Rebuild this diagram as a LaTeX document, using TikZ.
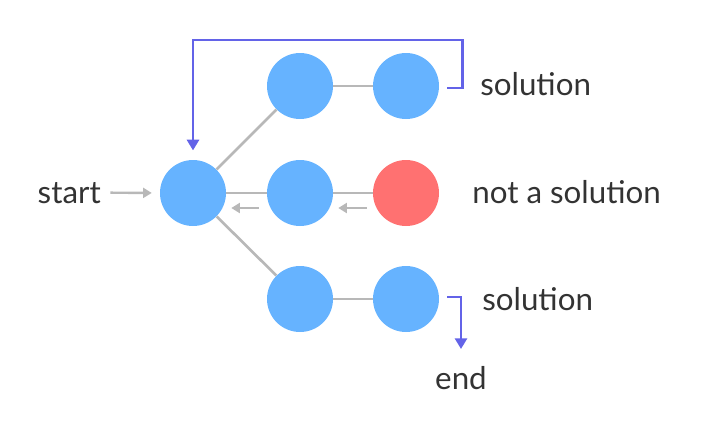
\documentclass[tikz,border=0pt]{standalone}
\usepackage{fontspec}
\setmainfont{Lato}
\usetikzlibrary{arrows.meta}
\definecolor{nodeblue}{HTML}{66B3FF}
\definecolor{nodered}{HTML}{FF7171}
\definecolor{trackpurple}{HTML}{6363E8}
\definecolor{edgegray}{HTML}{B8B8B8}
\definecolor{textgray}{HTML}{333333}

\begin{document}
\begin{tikzpicture}[x=0.75pt,y=-0.75pt,
  state/.style={circle,fill=nodeblue,minimum size=49.5pt,inner sep=0pt},
  deadend/.style={state,fill=nodered},
  edge/.style={edgegray,line width=2pt},
  move/.style={edgegray,line width=1.8pt,-{Triangle[length=6.5pt,width=7.5pt]}},
  track/.style={trackpurple,line width=2.2pt,-{Triangle[length=8pt,width=9pt]}},
  lbl/.style={font=\fontsize{23.5}{27}\selectfont,text=textgray,inner sep=0pt}]
  \useasboundingbox (0,0) rectangle (702,437);

  % the tree
  \node[state] (root) at (193,193) {};
  \node[state] (a1) at (300,86) {};
  \node[state] (a2) at (406,86) {};
  \node[state] (b1) at (300,193) {};
  \node[deadend] (b2) at (406,193) {};
  \node[state] (c1) at (300,299) {};
  \node[state] (c2) at (406,299) {};
  \foreach \u/\v in {root/a1,root/b1,root/c1,a1/a2,b1/b2,c1/c2}
    \draw[edge] (\u) -- (\v);

  % labels
  \node[lbl,anchor=base east] (start) at (101,203) {start};
  \node[lbl,anchor=base west] (sol1) at (480,95) {solution};
  \node[lbl,anchor=base west] (nosol) at (472,203) {not a solution};
  \node[lbl,anchor=base west] (sol2) at (482,310) {solution};
  \node[lbl,anchor=base] (end) at (461,389) {end};

  % moves
  \draw[move,shorten <=7pt,shorten >=6pt] (start.east) -- (root.west);
  \draw[move] ([shift={(-8,15)}]b1.west) -- ([shift={(5,15)}]root.east);
  \draw[move] ([shift={(-6,15)}]b2.west) -- ([shift={(5,15)}]b1.east);
  \draw[track,shorten >=7pt] ([shift={(8,2)}]a2.east) -- ++(15,0) -- ++(0,-48) -| (root.north);
  \draw[track,shorten >=12.5pt] ([shift={(8,-2)}]c2.east) -| (end.north);
\end{tikzpicture}
\end{document}
